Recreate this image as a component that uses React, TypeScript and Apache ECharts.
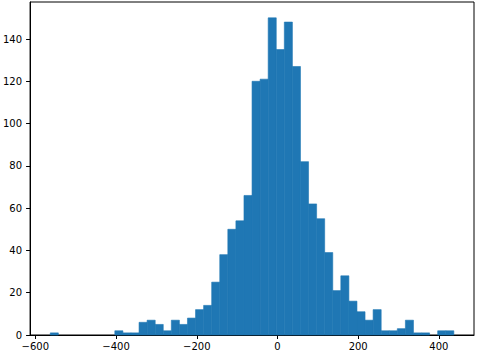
import React, { useEffect, useRef } from "react";
import * as echarts from "echarts";

const binEdges = [
  -563, -543, -523, -503, -483, -463, -443, -423, -403, -383,
  -363, -343, -323, -303, -283, -263, -243, -223, -203, -183,
  -163, -143, -123, -103, -83, -63, -43, -23, -3, 17,
  37, 57, 77, 97, 117, 137, 157, 177, 197, 217,
  237, 257, 277, 297, 317, 337, 357, 377, 397, 417, 437,
];
const counts = [
  1, 0, 0, 0, 0, 0, 0, 0, 2, 1,
  1, 6, 7, 5, 2, 7, 5, 8, 12, 14,
  25, 38, 50, 54, 66, 120, 121, 150, 135, 148,
  127, 82, 62, 55, 39, 21, 28, 16, 11, 7,
  12, 2, 2, 3, 7, 1, 1, 0, 2, 2,
];
const xTicks = [-600, -400, -200, 0, 200, 400];
const yTicks = [0, 20, 40, 60, 80, 100, 120, 140];

const fmt = (v: number) => String(v).replace("-", "\u2212");

export default function App() {
  const ref = useRef<HTMLDivElement>(null);
  useEffect(() => {
    document.body.style.margin = "0";
    const chart = echarts.init(ref.current!, null, { renderer: "svg" });
    const data = counts.map((c, i) => [binEdges[i], binEdges[i + 1], c]);
    const axisText = { color: "#000", fontFamily: "DejaVu Sans", fontSize: 10 };
    chart.setOption({
      animation: false,
      grid: {
        left: 29,
        top: 2,
        right: 4,
        bottom: 20,
        show: true,
        borderColor: "#000",
        borderWidth: 1,
        backgroundColor: "#fff",
      },
      xAxis: {
        type: "value",
        min: -613,
        max: 487,
        axisLine: { show: true, onZero: false, lineStyle: { color: "#000", width: 1 } },
        axisTick: { show: true, inside: false, length: 4, customValues: xTicks, lineStyle: { color: "#000" } },
        axisLabel: { ...axisText, margin: 6, customValues: xTicks, formatter: (v: number) => fmt(v) },
        splitLine: { show: false },
      },
      yAxis: {
        type: "value",
        min: 0,
        max: 157.5,
        axisLine: { show: true, onZero: false, lineStyle: { color: "#000", width: 1 } },
        axisTick: { show: true, inside: false, length: 4, customValues: yTicks, lineStyle: { color: "#000" } },
        axisLabel: { ...axisText, margin: 8, customValues: yTicks, formatter: (v: number) => fmt(v) },
        splitLine: { show: false },
      },
      series: [
        {
          type: "custom",
          data,
          encode: { x: [0, 1], y: 2 },
          renderItem: (params: any, api: any) => {
            if (!api.value(2)) return null;
            const p0 = api.coord([api.value(0), 0]);
            const p1 = api.coord([api.value(1), api.value(2)]);
            return {
              type: "rect",
              shape: { x: p0[0], y: p1[1], width: p1[0] - p0[0], height: p0[1] - p1[1] },
              style: { fill: "#1f77b4", stroke: "#1f77b4", lineWidth: 0.6 },
            };
          },
        },
      ],
    });
    return () => chart.dispose();
  }, []);
  return <div ref={ref} style={{ width: 478, height: 355 }} />;
}
